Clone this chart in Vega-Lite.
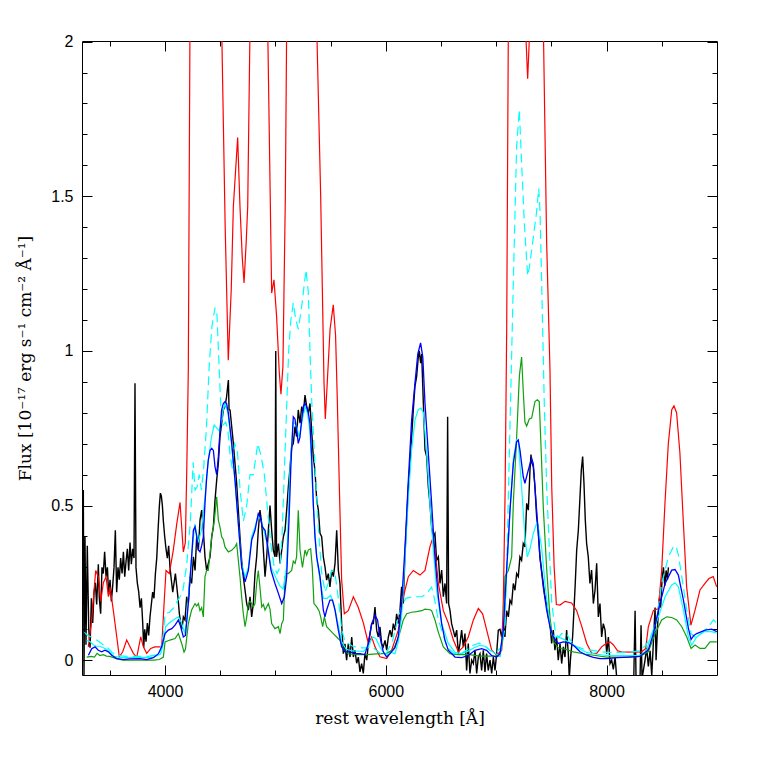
{
"$schema": "https://vega.github.io/schema/vega-lite/v6.json",
"width": 635, "height": 634,
"autosize": "none",
"padding": {"left": 82, "top": 41, "right": 40, "bottom": 82},
"background": "white",
"config": {"view": {"stroke": "black", "strokeWidth": 1},
 "axis": {"grid": false, "domain": false, "tickColor": "black", "labelColor": "black", "titleColor": "black", "labelFont": "Liberation Sans", "labelFontSize": 16, "titleFont": "DejaVu Serif", "titleFontSize": 17, "titleFontWeight": "normal", "tickWidth": 1}},
"resolve": {"axis": {"x": "independent", "y": "independent"}},
"datasets": {
"black": [
{"w":3254,"f":0.35},{"w":3260,"f":0.55},{"w":3266,"f":-0.05},{"w":3275,"f":0.4},{"w":3284,"f":0.05},{"w":3296,"f":0.37},{"w":3309,"f":0.1},{"w":3321,"f":0.04},{"w":3333,"f":0.2},{"w":3345,"f":0.12},{"w":3357,"f":0.22},{"w":3369,"f":0.25},{"w":3381,"f":0.18},{"w":3396,"f":0.31},{"w":3405,"f":0.2},{"w":3417,"f":0.15},{"w":3429,"f":0.3},{"w":3441,"f":0.28},{"w":3453,"f":0.35},{"w":3466,"f":0.27},{"w":3478,"f":0.3},{"w":3490,"f":0.21},{"w":3502,"f":0.26},{"w":3514,"f":0.19},{"w":3526,"f":0.24},{"w":3538,"f":0.3},{"w":3550,"f":0.42},{"w":3562,"f":0.22},{"w":3574,"f":0.3},{"w":3586,"f":0.26},{"w":3598,"f":0.33},{"w":3611,"f":0.28},{"w":3623,"f":0.35},{"w":3635,"f":0.27},{"w":3647,"f":0.32},{"w":3659,"f":0.36},{"w":3671,"f":0.29},{"w":3683,"f":0.38},{"w":3695,"f":0.31},{"w":3707,"f":0.36},{"w":3719,"f":0.33},{"w":3728,"f":0.895},{"w":3737,"f":0.3},{"w":3749,"f":0.25},{"w":3762,"f":0.22},{"w":3774,"f":0.17},{"w":3786,"f":0.2},{"w":3798,"f":0.12},{"w":3807,"f":0.04},{"w":3816,"f":0.1},{"w":3828,"f":0.06},{"w":3840,"f":0.12},{"w":3852,"f":0.08},{"w":3864,"f":0.14},{"w":3876,"f":0.18},{"w":3888,"f":0.22},{"w":3900,"f":0.2},{"w":3913,"f":0.28},{"w":3925,"f":0.33},{"w":3937,"f":0.42},{"w":3949,"f":0.5},{"w":3958,"f":0.54},{"w":3967,"f":0.53},{"w":3976,"f":0.5},{"w":3985,"f":0.45},{"w":3997,"f":0.4},{"w":4009,"f":0.36},{"w":4021,"f":0.33},{"w":4033,"f":0.37},{"w":4045,"f":0.3},{"w":4057,"f":0.26},{"w":4070,"f":0.22},{"w":4082,"f":0.25},{"w":4094,"f":0.28},{"w":4106,"f":0.24},{"w":4118,"f":0.2},{"w":4130,"f":0.15},{"w":4142,"f":0.12},{"w":4154,"f":0.1},{"w":4166,"f":0.14},
{"w":4181,"f":0.13},{"w":4196,"f":0.205},{"w":4211,"f":0.183},{"w":4226,"f":0.27},{"w":4241,"f":0.248},{"w":4257,"f":0.334},{"w":4272,"f":0.29},{"w":4287,"f":0.399},{"w":4302,"f":0.356},{"w":4317,"f":0.453},{"w":4332,"f":0.485},{"w":4347,"f":0.42},{"w":4362,"f":0.334},{"w":4377,"f":0.29},{"w":4392,"f":0.313},{"w":4408,"f":0.334},{"w":4423,"f":0.399},{"w":4438,"f":0.431},{"w":4453,"f":0.518},{"w":4468,"f":0.582},{"w":4483,"f":0.636},{"w":4498,"f":0.723},{"w":4513,"f":0.766},{"w":4528,"f":0.809},{"w":4543,"f":0.82},{"w":4558,"f":0.852},{"w":4574,"f":0.906},{"w":4580,"f":0.81},{"w":4589,"f":0.809},{"w":4604,"f":0.755},{"w":4619,"f":0.701},{"w":4634,"f":0.636},{"w":4649,"f":0.572},{"w":4664,"f":0.485},{"w":4679,"f":0.399},{"w":4694,"f":0.323},{"w":4709,"f":0.27},{"w":4725,"f":0.226},{"w":4740,"f":0.183},{"w":4755,"f":0.162},{"w":4770,"f":0.205},{"w":4785,"f":0.14},{"w":4800,"f":0.183},{"w":4815,"f":0.28},{"w":4830,"f":0.334},{"w":4845,"f":0.42},{"w":4860,"f":0.485},{"w":4876,"f":0.442},{"w":4891,"f":0.356},{"w":4906,"f":0.27},{"w":4921,"f":0.334},{"w":4936,"f":0.42},{"w":4951,"f":0.5},{"w":4966,"f":0.42},{"w":4981,"f":0.356},{"w":4996,"f":0.334},{"w":5003,"f":1.0},{"w":5010,"f":0.334},{"w":5027,"f":0.377},{"w":5042,"f":0.313},{"w":5057,"f":0.356},{"w":5072,"f":0.399},{"w":5087,"f":0.42},{"w":5102,"f":0.485},{"w":5117,"f":0.56},{"w":5132,"f":0.62},{"w":5147,"f":0.69},{"w":5162,"f":0.7},{"w":5177,"f":0.755},{"w":5192,"f":0.723},{"w":5207,"f":0.809},{"w":5223,"f":0.766},{"w":5238,"f":0.82},{"w":5253,"f":0.798},{"w":5268,"f":0.857},{"w":5283,"f":0.82},{"w":5298,"f":0.798},{"w":5313,"f":0.83},{"w":5328,"f":0.744},{"w":5343,"f":0.658},{"w":5358,"f":0.615},{"w":5374,"f":0.518},{"w":5389,"f":0.485},{"w":5404,"f":0.41},{"w":5419,"f":0.399},{"w":5434,"f":0.334},{"w":5449,"f":0.302},{"w":5464,"f":0.259},{"w":5479,"f":0.28},{"w":5494,"f":0.237},{"w":5510,"f":0.291},{"w":5525,"f":0.27},{"w":5540,"f":0.313},{"w":5555,"f":0.42},{"w":5570,"f":0.291},{"w":5585,"f":0.248},{"w":5600,"f":0.118},{"w":5615,"f":0.021},{"w":5630,"f":0.053},{"w":5645,"f":0.0},{"w":5660,"f":0.053},{"w":5676,"f":0.01},{"w":5691,"f":0.075},{"w":5706,"f":0.01},{"w":5721,"f":0.032},{"w":5736,"f":-0.01},{"w":5751,"f":0.01},{"w":5766,"f":-0.038},{"w":5781,"f":-0.011},{"w":5796,"f":-0.043},{"w":5811,"f":0.021},{"w":5827,"f":0.0},{"w":5842,"f":0.054},{"w":5857,"f":0.086},{"w":5872,"f":0.118},{"w":5887,"f":0.118},{"w":5902,"f":0.172},{"w":5917,"f":0.097},{"w":5932,"f":0.075},{"w":5947,"f":0.108},{"w":5962,"f":0.054},{"w":5977,"f":0.043},{"w":5993,"f":0.064},{"w":6008,"f":0.032},{"w":6023,"f":0.075},{"w":6038,"f":0.097},{"w":6053,"f":0.075},{"w":6068,"f":0.118},{"w":6083,"f":0.097},{"w":6098,"f":0.15},{"w":6113,"f":0.118},{"w":6128,"f":0.16},{"w":6143,"f":0.237},{"w":6158,"f":0.183},{"w":6174,"f":0.345},{"w":6189,"f":0.453},{"w":6204,"f":0.56},{"w":6219,"f":0.636},{"w":6234,"f":0.723},{"w":6249,"f":0.809},{"w":6264,"f":0.885},{"w":6279,"f":0.917},{"w":6294,"f":0.98},{"w":6303,"f":1.0},{"w":6316,"f":0.96},{"w":6325,"f":0.99},{"w":6340,"f":0.83},{"w":6355,"f":0.68},{"w":6370,"f":0.658},{"w":6385,"f":0.56},{"w":6400,"f":0.507},{"w":6415,"f":0.43},{"w":6430,"f":0.399},{"w":6445,"f":0.41},{"w":6460,"f":0.323},{"w":6476,"f":0.334},{"w":6491,"f":0.248},{"w":6506,"f":0.291},{"w":6521,"f":0.205},{"w":6536,"f":0.248},{"w":6551,"f":0.183},{"w":6560,"f":0.787},{"w":6569,"f":0.183},{"w":6581,"f":0.162},{"w":6596,"f":0.118},{"w":6611,"f":0.097},{"w":6627,"f":0.075},{"w":6642,"f":0.097},{"w":6657,"f":0.021},{"w":6672,"f":0.054},{"w":6687,"f":0.097},{"w":6702,"f":0.043},{"w":6717,"f":0.086},{"w":6732,"f":-0.033},{"w":6747,"f":0.054},{"w":6762,"f":-0.043},{"w":6778,"f":0.0},{"w":6793,"f":-0.011},{"w":6808,"f":0.032},{"w":6823,"f":-0.043},{"w":6838,"f":0.01},{"w":6853,"f":0.021},{"w":6868,"f":-0.033},{"w":6883,"f":0.032},{"w":6898,"f":-0.038},{"w":6913,"f":0.021},{"w":6928,"f":-0.033},{"w":6944,"f":0.0},{"w":6959,"f":-0.043},{"w":6974,"f":0.01},{"w":6989,"f":-0.033},{"w":7004,"f":0.021},{"w":7019,"f":0.097},{"w":7034,"f":0.1},{"w":7049,"f":0.075},{"w":7064,"f":0.118},{"w":7079,"f":0.075},{"w":7094,"f":0.16},{"w":7110,"f":0.14},{"w":7125,"f":0.194},{"w":7140,"f":0.183},{"w":7155,"f":0.248},{"w":7170,"f":0.226},{"w":7185,"f":0.28},{"w":7200,"f":0.27},{"w":7215,"f":0.334},{"w":7230,"f":0.323},{"w":7245,"f":0.377},{"w":7260,"f":0.366},{"w":7276,"f":0.507},{"w":7291,"f":0.485},{"w":7306,"f":0.615},{"w":7315,"f":0.665},{"w":7321,"f":0.64},{"w":7336,"f":0.625},{"w":7351,"f":0.56},{"w":7366,"f":0.464},{"w":7381,"f":0.42},{"w":7396,"f":0.334},{"w":7411,"f":0.291},{"w":7426,"f":0.248},{"w":7442,"f":0.205},{"w":7457,"f":0.183},{"w":7472,"f":0.14},{"w":7487,"f":0.118},{"w":7502,"f":0.054},{"w":7517,"f":0.097},{"w":7532,"f":0.032},{"w":7547,"f":0.075},{"w":7562,"f":0.0},{"w":7578,"f":0.054},{"w":7593,"f":-0.011},{"w":7608,"f":0.043},{"w":7623,"f":0.01},{"w":7638,"f":0.097},{"w":7653,"f":0.021},{"w":7662,"f":-0.06},{"w":7674,"f":0.01},{"w":7692,"f":0.075},{"w":7704,"f":0.16},{"w":7716,"f":0.248},{"w":7729,"f":0.356},{"w":7744,"f":0.42},{"w":7759,"f":0.528},{"w":7771,"f":0.615},{"w":7783,"f":0.658},{"w":7795,"f":0.572},{"w":7807,"f":0.453},{"w":7819,"f":0.377},{"w":7834,"f":0.334},{"w":7849,"f":0.248},{"w":7864,"f":0.291},{"w":7880,"f":0.183},{"w":7895,"f":0.226},{"w":7910,"f":0.313},{"w":7925,"f":0.14},{"w":7940,"f":0.183},{"w":7955,"f":0.075},{"w":7970,"f":0.118},{"w":7986,"f":0.097},{"w":8001,"f":0.021},{"w":8016,"f":0.075},{"w":8031,"f":-0.011},{"w":8046,"f":0.0},{"w":8061,"f":-0.03},{"w":8077,"f":0.01},{"w":8092,"f":-0.06},{"w":8122,"f":-0.08},{"w":8167,"f":-0.08},{"w":8213,"f":-0.08},{"w":8246,"f":-0.06},{"w":8258,"f":0.16},{"w":8267,"f":-0.07},{"w":8288,"f":-0.08},{"w":8303,"f":-0.06},{"w":8312,"f":0.113},{"w":8321,"f":-0.06},{"w":8348,"f":0.0},{"w":8363,"f":0.04},{"w":8378,"f":-0.02},{"w":8394,"f":0.03},{"w":8409,"f":-0.05},{"w":8424,"f":0.06},{"w":8439,"f":0.17},{"w":8448,"f":0.0},{"w":8463,"f":0.12},{"w":8478,"f":0.2},{"w":8490,"f":0.17},{"w":8502,"f":0.26},{"w":8515,"f":0.3},{"w":8527,"f":0.24},{"w":8539,"f":0.29},{"w":8551,"f":0.26},{"w":8560,"f":0.3}
],
"red": [
{"w":3305,"f":0.043},{"w":3336,"f":0.13},{"w":3372,"f":0.29},{"w":3396,"f":0.27},{"w":3418,"f":0.19},{"w":3441,"f":0.25},{"w":3466,"f":0.27},{"w":3487,"f":0.205},{"w":3502,"f":0.237},{"w":3532,"f":0.16},{"w":3563,"f":0.075},{"w":3586,"f":0.011},{"w":3617,"f":0.027},{"w":3653,"f":0.065},{"w":3683,"f":0.043},{"w":3713,"f":0.022},{"w":3744,"f":0.009},{"w":3780,"f":0.075},{"w":3804,"f":0.043},{"w":3834,"f":0.022},{"w":3870,"f":0.038},{"w":3909,"f":0.043},{"w":3970,"f":0.043},{"w":3991,"f":0.18},{"w":4009,"f":0.29},{"w":4039,"f":0.28},{"w":4075,"f":0.356},{"w":4106,"f":0.44},{"w":4136,"f":0.51},{"w":4151,"f":0.43},{"w":4166,"f":0.35},{"w":4184,"f":0.38},{"w":4197,"f":0.615},{"w":4211,"f":0.94},{"w":4226,"f":2.05},{"w":4370,"f":3.0},{"w":4513,"f":2.05},{"w":4545,"f":1.4},{"w":4573,"f":0.97},{"w":4600,"f":1.2},{"w":4619,"f":1.467},{"w":4658,"f":1.69},{"w":4679,"f":1.467},{"w":4700,"f":1.3},{"w":4716,"f":1.22},{"w":4735,"f":1.35},{"w":4749,"f":1.467},{"w":4770,"f":2.05},{"w":4850,"f":3.0},{"w":4930,"f":2.05},{"w":4966,"f":1.187},{"w":4987,"f":1.23},{"w":5011,"f":1.11},{"w":5035,"f":0.93},{"w":5050,"f":0.86},{"w":5068,"f":0.95},{"w":5090,"f":1.5},{"w":5102,"f":2.05},{"w":5240,"f":3.0},{"w":5374,"f":2.05},{"w":5410,"f":1.5},{"w":5440,"f":0.9},{"w":5452,"f":0.78},{"w":5470,"f":0.9},{"w":5495,"f":1.07},{"w":5524,"f":1.149},{"w":5545,"f":1.05},{"w":5560,"f":0.85},{"w":5585,"f":0.475},{"w":5600,"f":0.26},{"w":5624,"f":0.15},{"w":5660,"f":0.16},{"w":5706,"f":0.205},{"w":5751,"f":0.17},{"w":5797,"f":0.12},{"w":5842,"f":0.054},{"w":5872,"f":0.075},{"w":5902,"f":0.043},{"w":5947,"f":0.011},{"w":6008,"f":0.005},{"w":6053,"f":0.032},{"w":6113,"f":0.097},{"w":6159,"f":0.205},{"w":6204,"f":0.27},{"w":6249,"f":0.29},{"w":6310,"f":0.275},{"w":6355,"f":0.29},{"w":6400,"f":0.367},{"w":6425,"f":0.394},{"w":6446,"f":0.356},{"w":6476,"f":0.248},{"w":6521,"f":0.16},{"w":6566,"f":0.12},{"w":6612,"f":0.065},{"w":6657,"f":0.027},{"w":6702,"f":0.043},{"w":6747,"f":0.075},{"w":6793,"f":0.13},{"w":6838,"f":0.167},{"w":6877,"f":0.15},{"w":6914,"f":0.097},{"w":6959,"f":0.032},{"w":7004,"f":0.016},{"w":7050,"f":0.032},{"w":7065,"f":0.2},{"w":7080,"f":0.53},{"w":7095,"f":1.07},{"w":7110,"f":2.05},{"w":7200,"f":3.0},{"w":7265,"f":2.05},{"w":7285,"f":1.88},{"w":7305,"f":2.05},{"w":7360,"f":3.0},{"w":7427,"f":2.05},{"w":7457,"f":1.35},{"w":7487,"f":0.94},{"w":7503,"f":0.56},{"w":7525,"f":0.3},{"w":7545,"f":0.18},{"w":7578,"f":0.178},{"w":7623,"f":0.19},{"w":7683,"f":0.185},{"w":7729,"f":0.16},{"w":7774,"f":0.11},{"w":7820,"f":0.054},{"w":7865,"f":0.022},{"w":7910,"f":0.022},{"w":7955,"f":0.043},{"w":8001,"f":0.055},{"w":8031,"f":0.059},{"w":8060,"f":0.05},{"w":8100,"f":0.03},{"w":8137,"f":0.027},{"w":8227,"f":0.026},{"w":8318,"f":0.027},{"w":8354,"f":0.038},{"w":8378,"f":0.108},{"w":8423,"f":0.16},{"w":8468,"f":0.167},{"w":8499,"f":0.29},{"w":8529,"f":0.51},{"w":8559,"f":0.7},{"w":8590,"f":0.81},{"w":8610,"f":0.822},{"w":8634,"f":0.8},{"w":8664,"f":0.67},{"w":8694,"f":0.453},{"w":8725,"f":0.237},{"w":8764,"f":0.113},{"w":8800,"f":0.16},{"w":8846,"f":0.227},{"w":8891,"f":0.248},{"w":8927,"f":0.264},{"w":8966,"f":0.27},{"w":8997,"f":0.237}
],
"green": [
{"w":3290,"f":0.01},{"w":3330,"f":0.012},{"w":3360,"f":0.01},{"w":3385,"f":0.022},{"w":3410,"f":0.015},{"w":3440,"f":0.018},{"w":3470,"f":0.013},{"w":3500,"f":0.012},{"w":3560,"f":0.005},{"w":3620,"f":0.0},{"w":3700,"f":0.0},{"w":3800,"f":0.0},{"w":3900,"f":0.0},{"w":3950,"f":0.002},{"w":3985,"f":0.01},{"w":4000,"f":0.059},{"w":4045,"f":0.065},{"w":4091,"f":0.07},{"w":4121,"f":0.086},{"w":4151,"f":0.054},{"w":4172,"f":0.026},{"w":4185,"f":0.035},{"w":4211,"f":0.118},{"w":4241,"f":0.162},{"w":4272,"f":0.183},{"w":4287,"f":0.175},{"w":4302,"f":0.183},{"w":4317,"f":0.16},{"w":4332,"f":0.17},{"w":4347,"f":0.14},{"w":4362,"f":0.27},{"w":4377,"f":0.29},{"w":4392,"f":0.29},{"w":4423,"f":0.399},{"w":4447,"f":0.453},{"w":4468,"f":0.528},{"w":4483,"f":0.453},{"w":4498,"f":0.43},{"w":4513,"f":0.399},{"w":4528,"f":0.39},{"w":4543,"f":0.366},{"w":4574,"f":0.35},{"w":4604,"f":0.355},{"w":4634,"f":0.366},{"w":4649,"f":0.377},{"w":4664,"f":0.323},{"w":4679,"f":0.27},{"w":4694,"f":0.205},{"w":4709,"f":0.151},{"w":4725,"f":0.108},{"w":4740,"f":0.14},{"w":4755,"f":0.183},{"w":4770,"f":0.19},{"w":4785,"f":0.183},{"w":4800,"f":0.172},{"w":4815,"f":0.183},{"w":4830,"f":0.248},{"w":4845,"f":0.29},{"w":4860,"f":0.235},{"w":4876,"f":0.172},{"w":4891,"f":0.18},{"w":4906,"f":0.162},{"w":4936,"f":0.183},{"w":4951,"f":0.165},{"w":4966,"f":0.118},{"w":4996,"f":0.102},{"w":5027,"f":0.108},{"w":5042,"f":0.086},{"w":5057,"f":0.118},{"w":5072,"f":0.13},{"w":5087,"f":0.27},{"w":5102,"f":0.28},{"w":5117,"f":0.28},{"w":5147,"f":0.29},{"w":5162,"f":0.32},{"w":5178,"f":0.313},{"w":5192,"f":0.334},{"w":5207,"f":0.485},{"w":5223,"f":0.356},{"w":5245,"f":0.3},{"w":5268,"f":0.356},{"w":5283,"f":0.34},{"w":5298,"f":0.356},{"w":5319,"f":0.36},{"w":5334,"f":0.3},{"w":5349,"f":0.183},{"w":5374,"f":0.172},{"w":5395,"f":0.16},{"w":5410,"f":0.14},{"w":5428,"f":0.108},{"w":5443,"f":0.14},{"w":5464,"f":0.108},{"w":5494,"f":0.097},{"w":5524,"f":0.086},{"w":5555,"f":0.075},{"w":5585,"f":0.064},{"w":5615,"f":0.035},{"w":5660,"f":0.02},{"w":5750,"f":0.018},{"w":5827,"f":0.018},{"w":5917,"f":0.02},{"w":6008,"f":0.022},{"w":6070,"f":0.035},{"w":6098,"f":0.06},{"w":6128,"f":0.09},{"w":6158,"f":0.13},{"w":6189,"f":0.15},{"w":6234,"f":0.155},{"w":6279,"f":0.157},{"w":6325,"f":0.16},{"w":6355,"f":0.165},{"w":6400,"f":0.163},{"w":6415,"f":0.16},{"w":6445,"f":0.13},{"w":6476,"f":0.09},{"w":6521,"f":0.043},{"w":6581,"f":0.021},{"w":6650,"f":0.018},{"w":6760,"f":0.018},{"w":6850,"f":0.013},{"w":6930,"f":0.013},{"w":7000,"f":0.013},{"w":7034,"f":0.013},{"w":7064,"f":0.075},{"w":7079,"f":0.27},{"w":7110,"f":0.29},{"w":7140,"f":0.334},{"w":7155,"f":0.507},{"w":7185,"f":0.72},{"w":7210,"f":0.92},{"w":7230,"f":0.98},{"w":7245,"f":0.87},{"w":7260,"f":0.77},{"w":7276,"f":0.757},{"w":7300,"f":0.78},{"w":7321,"f":0.783},{"w":7351,"f":0.836},{"w":7372,"f":0.842},{"w":7390,"f":0.836},{"w":7406,"f":0.69},{"w":7427,"f":0.49},{"w":7457,"f":0.296},{"w":7487,"f":0.138},{"w":7502,"f":0.097},{"w":7517,"f":0.06},{"w":7563,"f":0.04},{"w":7610,"f":0.037},{"w":7699,"f":0.027},{"w":7800,"f":0.02},{"w":7900,"f":0.015},{"w":8000,"f":0.01},{"w":8100,"f":0.01},{"w":8200,"f":0.01},{"w":8300,"f":0.012},{"w":8378,"f":0.027},{"w":8439,"f":0.086},{"w":8499,"f":0.13},{"w":8545,"f":0.14},{"w":8590,"f":0.138},{"w":8635,"f":0.13},{"w":8681,"f":0.108},{"w":8726,"f":0.075},{"w":8765,"f":0.038},{"w":8801,"f":0.049},{"w":8846,"f":0.038},{"w":8891,"f":0.038},{"w":8937,"f":0.059},{"w":8998,"f":0.059}
],
"cyandash": [
{"w":3270,"f":0.09},{"w":3300,"f":0.08},{"w":3330,"f":0.075},{"w":3360,"f":0.07},{"w":3400,"f":0.06},{"w":3440,"f":0.05},{"w":3480,"f":0.04},{"w":3520,"f":0.025},{"w":3560,"f":0.015},{"w":3650,"f":0.012},{"w":3750,"f":0.012},{"w":3850,"f":0.012},{"w":3950,"f":0.02},{"w":3985,"f":0.08},{"w":4000,"f":0.15},{"w":4040,"f":0.155},{"w":4080,"f":0.17},{"w":4110,"f":0.19},{"w":4136,"f":0.205},{"w":4160,"f":0.22},{"w":4197,"f":0.31},{"w":4230,"f":0.45},{"w":4255,"f":0.64},{"w":4272,"f":0.55},{"w":4290,"f":0.56},{"w":4310,"f":0.6},{"w":4330,"f":0.55},{"w":4350,"f":0.62},{"w":4375,"f":0.75},{"w":4400,"f":0.95},{"w":4425,"f":1.08},{"w":4453,"f":1.14},{"w":4470,"f":1.12},{"w":4490,"f":0.95},{"w":4505,"f":0.82},{"w":4525,"f":0.76},{"w":4550,"f":0.77},{"w":4570,"f":0.74},{"w":4590,"f":0.66},{"w":4610,"f":0.62},{"w":4630,"f":0.7},{"w":4655,"f":0.68},{"w":4680,"f":0.55},{"w":4710,"f":0.45},{"w":4740,"f":0.5},{"w":4770,"f":0.6},{"w":4800,"f":0.6},{"w":4840,"f":0.7},{"w":4870,"f":0.66},{"w":4900,"f":0.6},{"w":4930,"f":0.48},{"w":4960,"f":0.37},{"w":4990,"f":0.3},{"w":5015,"f":0.28},{"w":5040,"f":0.3},{"w":5060,"f":0.4},{"w":5090,"f":0.7},{"w":5120,"f":1.0},{"w":5140,"f":1.1},{"w":5162,"f":1.155},{"w":5185,"f":1.1},{"w":5208,"f":1.07},{"w":5240,"f":1.15},{"w":5277,"f":1.262},{"w":5298,"f":1.19},{"w":5313,"f":1.0},{"w":5330,"f":0.83},{"w":5360,"f":0.62},{"w":5390,"f":0.42},{"w":5420,"f":0.28},{"w":5450,"f":0.22},{"w":5480,"f":0.25},{"w":5510,"f":0.29},{"w":5540,"f":0.28},{"w":5570,"f":0.2},{"w":5600,"f":0.1},{"w":5630,"f":0.06},{"w":5700,"f":0.045},{"w":5780,"f":0.04},{"w":5830,"f":0.04},{"w":5870,"f":0.045},{"w":5920,"f":0.03},{"w":5960,"f":0.02},{"w":6000,"f":0.02},{"w":6060,"f":0.06},{"w":6100,"f":0.12},{"w":6140,"f":0.17},{"w":6180,"f":0.2},{"w":6250,"f":0.205},{"w":6330,"f":0.205},{"w":6380,"f":0.22},{"w":6415,"f":0.236},{"w":6440,"f":0.2},{"w":6470,"f":0.14},{"w":6520,"f":0.08},{"w":6560,"f":0.04},{"w":6620,"f":0.022},{"w":6680,"f":0.02},{"w":6740,"f":0.035},{"w":6800,"f":0.05},{"w":6850,"f":0.055},{"w":6900,"f":0.045},{"w":6950,"f":0.03},{"w":7000,"f":0.025},{"w":7040,"f":0.04},{"w":7079,"f":0.1},{"w":7095,"f":0.3},{"w":7125,"f":0.76},{"w":7155,"f":1.22},{"w":7185,"f":1.66},{"w":7209,"f":1.78},{"w":7230,"f":1.61},{"w":7255,"f":1.41},{"w":7285,"f":1.243},{"w":7300,"f":1.27},{"w":7330,"f":1.35},{"w":7366,"f":1.45},{"w":7385,"f":1.525},{"w":7397,"f":1.45},{"w":7412,"f":1.217},{"w":7436,"f":0.823},{"w":7457,"f":0.56},{"w":7481,"f":0.362},{"w":7502,"f":0.191},{"w":7532,"f":0.1},{"w":7563,"f":0.073},{"w":7593,"f":0.086},{"w":7638,"f":0.086},{"w":7668,"f":0.066},{"w":7720,"f":0.045},{"w":7800,"f":0.035},{"w":7900,"f":0.03},{"w":8000,"f":0.025},{"w":8100,"f":0.025},{"w":8200,"f":0.025},{"w":8300,"f":0.03},{"w":8360,"f":0.05},{"w":8394,"f":0.075},{"w":8439,"f":0.097},{"w":8499,"f":0.248},{"w":8560,"f":0.334},{"w":8605,"f":0.367},{"w":8629,"f":0.369},{"w":8650,"f":0.34},{"w":8681,"f":0.27},{"w":8726,"f":0.162},{"w":8765,"f":0.086},{"w":8801,"f":0.075},{"w":8862,"f":0.086},{"w":8922,"f":0.108},{"w":8968,"f":0.13},{"w":8998,"f":0.12}
],
"cyan": [
{"w":3290,"f":0.064},{"w":3320,"f":0.06},{"w":3350,"f":0.05},{"w":3380,"f":0.045},{"w":3410,"f":0.045},{"w":3440,"f":0.04},{"w":3470,"f":0.035},{"w":3500,"f":0.025},{"w":3540,"f":0.012},{"w":3600,"f":0.008},{"w":3700,"f":0.008},{"w":3800,"f":0.008},{"w":3900,"f":0.01},{"w":3960,"f":0.02},{"w":3990,"f":0.06},{"w":4005,"f":0.108},{"w":4030,"f":0.118},{"w":4075,"f":0.13},{"w":4121,"f":0.14},{"w":4150,"f":0.12},{"w":4175,"f":0.09},{"w":4195,"f":0.12},{"w":4215,"f":0.22},{"w":4245,"f":0.35},{"w":4270,"f":0.44},{"w":4300,"f":0.38},{"w":4330,"f":0.42},{"w":4360,"f":0.52},{"w":4390,"f":0.64},{"w":4420,"f":0.72},{"w":4445,"f":0.76},{"w":4470,"f":0.75},{"w":4495,"f":0.74},{"w":4520,"f":0.8},{"w":4545,"f":0.83},{"w":4570,"f":0.8},{"w":4600,"f":0.71},{"w":4634,"f":0.58},{"w":4664,"f":0.44},{"w":4694,"f":0.31},{"w":4725,"f":0.27},{"w":4755,"f":0.3},{"w":4785,"f":0.4},{"w":4815,"f":0.43},{"w":4845,"f":0.47},{"w":4880,"f":0.44},{"w":4930,"f":0.37},{"w":4960,"f":0.3},{"w":5000,"f":0.27},{"w":5040,"f":0.24},{"w":5070,"f":0.23},{"w":5100,"f":0.3},{"w":5130,"f":0.6},{"w":5160,"f":0.77},{"w":5190,"f":0.76},{"w":5215,"f":0.72},{"w":5240,"f":0.77},{"w":5268,"f":0.82},{"w":5290,"f":0.8},{"w":5313,"f":0.74},{"w":5343,"f":0.5},{"w":5374,"f":0.33},{"w":5404,"f":0.26},{"w":5434,"f":0.2},{"w":5470,"f":0.2},{"w":5500,"f":0.21},{"w":5530,"f":0.18},{"w":5560,"f":0.13},{"w":5600,"f":0.06},{"w":5640,"f":0.035},{"w":5700,"f":0.03},{"w":5800,"f":0.028},{"w":5850,"f":0.05},{"w":5880,"f":0.075},{"w":5910,"f":0.07},{"w":5950,"f":0.04},{"w":6000,"f":0.015},{"w":6050,"f":0.025},{"w":6083,"f":0.021},{"w":6113,"f":0.06},{"w":6143,"f":0.14},{"w":6174,"f":0.334},{"w":6204,"f":0.528},{"w":6234,"f":0.68},{"w":6264,"f":0.777},{"w":6294,"f":0.81},{"w":6319,"f":0.815},{"w":6340,"f":0.8},{"w":6370,"f":0.669},{"w":6400,"f":0.507},{"w":6430,"f":0.356},{"w":6460,"f":0.226},{"w":6506,"f":0.118},{"w":6566,"f":0.054},{"w":6627,"f":0.025},{"w":6687,"f":0.021},{"w":6750,"f":0.03},{"w":6800,"f":0.04},{"w":6853,"f":0.048},{"w":6900,"f":0.045},{"w":6950,"f":0.03},{"w":7000,"f":0.02},{"w":7034,"f":0.012},{"w":7064,"f":0.097},{"w":7094,"f":0.27},{"w":7125,"f":0.485},{"w":7155,"f":0.65},{"w":7185,"f":0.712},{"w":7200,"f":0.708},{"w":7230,"f":0.56},{"w":7260,"f":0.4},{"w":7282,"f":0.334},{"w":7306,"f":0.36},{"w":7336,"f":0.41},{"w":7366,"f":0.442},{"w":7381,"f":0.43},{"w":7411,"f":0.366},{"w":7442,"f":0.248},{"w":7472,"f":0.15},{"w":7502,"f":0.086},{"w":7532,"f":0.075},{"w":7562,"f":0.075},{"w":7608,"f":0.068},{"w":7650,"f":0.06},{"w":7700,"f":0.05},{"w":7760,"f":0.035},{"w":7820,"f":0.025},{"w":7900,"f":0.02},{"w":8000,"f":0.015},{"w":8100,"f":0.015},{"w":8200,"f":0.015},{"w":8300,"f":0.015},{"w":8360,"f":0.03},{"w":8409,"f":0.086},{"w":8469,"f":0.14},{"w":8530,"f":0.205},{"w":8590,"f":0.243},{"w":8620,"f":0.25},{"w":8650,"f":0.237},{"w":8696,"f":0.162},{"w":8741,"f":0.075},{"w":8771,"f":0.049},{"w":8817,"f":0.075},{"w":8877,"f":0.092},{"w":8952,"f":0.092},{"w":8998,"f":0.087}
],
"blue": [
{"w":3306,"f":0.016},{"w":3336,"f":0.037},{"w":3366,"f":0.043},{"w":3396,"f":0.032},{"w":3426,"f":0.027},{"w":3456,"f":0.032},{"w":3487,"f":0.027},{"w":3517,"f":0.016},{"w":3562,"f":0.005},{"w":3623,"f":0.002},{"w":3683,"f":0.004},{"w":3774,"f":0.005},{"w":3834,"f":0.002},{"w":3894,"f":0.008},{"w":3940,"f":0.021},{"w":3970,"f":0.043},{"w":4000,"f":0.086},{"w":4030,"f":0.097},{"w":4061,"f":0.102},{"w":4091,"f":0.113},{"w":4121,"f":0.13},{"w":4140,"f":0.11},{"w":4166,"f":0.075},{"w":4185,"f":0.08},{"w":4211,"f":0.183},{"w":4241,"f":0.334},{"w":4257,"f":0.42},{"w":4272,"f":0.431},{"w":4287,"f":0.4},{"w":4302,"f":0.356},{"w":4317,"f":0.35},{"w":4332,"f":0.37},{"w":4347,"f":0.399},{"w":4362,"f":0.507},{"w":4377,"f":0.59},{"w":4392,"f":0.647},{"w":4408,"f":0.678},{"w":4423,"f":0.685},{"w":4438,"f":0.678},{"w":4453,"f":0.625},{"w":4468,"f":0.6},{"w":4483,"f":0.658},{"w":4498,"f":0.74},{"w":4513,"f":0.809},{"w":4528,"f":0.83},{"w":4543,"f":0.836},{"w":4558,"f":0.83},{"w":4574,"f":0.798},{"w":4604,"f":0.701},{"w":4634,"f":0.582},{"w":4664,"f":0.442},{"w":4694,"f":0.302},{"w":4725,"f":0.253},{"w":4755,"f":0.29},{"w":4785,"f":0.388},{"w":4815,"f":0.42},{"w":4845,"f":0.474},{"w":4860,"f":0.465},{"w":4882,"f":0.431},{"w":4906,"f":0.42},{"w":4930,"f":0.366},{"w":4960,"f":0.29},{"w":4996,"f":0.248},{"w":5027,"f":0.216},{"w":5057,"f":0.183},{"w":5081,"f":0.205},{"w":5102,"f":0.27},{"w":5123,"f":0.453},{"w":5141,"f":0.636},{"w":5162,"f":0.787},{"w":5177,"f":0.78},{"w":5192,"f":0.745},{"w":5207,"f":0.701},{"w":5222,"f":0.72},{"w":5238,"f":0.777},{"w":5253,"f":0.82},{"w":5268,"f":0.83},{"w":5283,"f":0.82},{"w":5298,"f":0.8},{"w":5313,"f":0.766},{"w":5328,"f":0.66},{"w":5343,"f":0.507},{"w":5358,"f":0.4},{"w":5374,"f":0.334},{"w":5404,"f":0.27},{"w":5434,"f":0.162},{"w":5449,"f":0.14},{"w":5464,"f":0.162},{"w":5494,"f":0.194},{"w":5517,"f":0.194},{"w":5540,"f":0.162},{"w":5570,"f":0.097},{"w":5600,"f":0.043},{"w":5630,"f":0.027},{"w":5676,"f":0.027},{"w":5721,"f":0.021},{"w":5766,"f":0.021},{"w":5810,"f":0.018},{"w":5842,"f":0.054},{"w":5872,"f":0.118},{"w":5902,"f":0.145},{"w":5925,"f":0.13},{"w":5947,"f":0.075},{"w":5977,"f":0.027},{"w":6008,"f":0.01},{"w":6038,"f":0.021},{"w":6083,"f":0.04},{"w":6113,"f":0.075},{"w":6143,"f":0.183},{"w":6174,"f":0.366},{"w":6204,"f":0.582},{"w":6234,"f":0.777},{"w":6264,"f":0.895},{"w":6290,"f":0.99},{"w":6315,"f":1.026},{"w":6335,"f":0.98},{"w":6355,"f":0.83},{"w":6385,"f":0.669},{"w":6415,"f":0.507},{"w":6445,"f":0.334},{"w":6476,"f":0.205},{"w":6506,"f":0.118},{"w":6536,"f":0.064},{"w":6566,"f":0.032},{"w":6627,"f":0.01},{"w":6687,"f":0.008},{"w":6747,"f":0.015},{"w":6808,"f":0.032},{"w":6868,"f":0.037},{"w":6913,"f":0.032},{"w":6958,"f":0.015},{"w":7004,"f":0.01},{"w":7034,"f":0.021},{"w":7064,"f":0.097},{"w":7094,"f":0.29},{"w":7125,"f":0.485},{"w":7155,"f":0.636},{"w":7185,"f":0.706},{"w":7200,"f":0.712},{"w":7215,"f":0.68},{"w":7245,"f":0.593},{"w":7260,"f":0.572},{"w":7291,"f":0.615},{"w":7321,"f":0.653},{"w":7336,"f":0.635},{"w":7366,"f":0.485},{"w":7396,"f":0.334},{"w":7426,"f":0.237},{"w":7457,"f":0.162},{"w":7487,"f":0.108},{"w":7517,"f":0.075},{"w":7562,"f":0.054},{"w":7608,"f":0.059},{"w":7653,"f":0.057},{"w":7683,"f":0.052},{"w":7714,"f":0.043},{"w":7759,"f":0.027},{"w":7819,"f":0.016},{"w":7880,"f":0.009},{"w":7940,"f":0.005},{"w":8000,"f":0.005},{"w":8100,"f":0.008},{"w":8200,"f":0.01},{"w":8300,"f":0.012},{"w":8378,"f":0.033},{"w":8424,"f":0.086},{"w":8469,"f":0.162},{"w":8530,"f":0.248},{"w":8590,"f":0.291},{"w":8620,"f":0.293},{"w":8650,"f":0.275},{"w":8696,"f":0.194},{"w":8741,"f":0.103},{"w":8765,"f":0.067},{"w":8790,"f":0.08},{"w":8817,"f":0.086},{"w":8892,"f":0.097},{"w":8952,"f":0.1},{"w":8998,"f":0.092}
]
},
"layer": [
{"data": {"name": "black"},
 "mark": {"type": "line", "color": "black", "strokeWidth": 1.4, "clip": true},
 "encoding": {
  "x": {"field": "w", "type": "quantitative", "scale": {"domain": [3248, 9000], "nice": false, "zero": false},
   "axis": {"orient": "bottom", "values": [4000, 6000, 8000], "tickSize": -10, "labelPadding": 18, "labelExpr": "'' + datum.value", "title": "rest wavelength [Å]", "titlePadding": 11}},
  "y": {"field": "f", "type": "quantitative", "scale": {"domain": [-0.048, 2.002], "nice": false, "zero": false},
   "axis": {"orient": "left", "values": [0, 0.5, 1, 1.5, 2], "tickSize": -10, "labelPadding": 19, "labelExpr": "'' + datum.value", "title": "Flux [10⁻¹⁷ erg s⁻¹ cm⁻² Å⁻¹]", "titlePadding": 16}}
 }},
{"data": {"name": "red"},
 "mark": {"type": "line", "color": "#ff0000", "strokeWidth": 1.2, "clip": true},
 "encoding": {
  "x": {"field": "w", "type": "quantitative", "scale": {"domain": [3248, 9000], "nice": false, "zero": false},
   "axis": {"orient": "bottom", "values": [3500, 4000, 4500, 5000, 5500, 6000, 6500, 7000, 7500, 8000, 8500], "tickSize": -5, "labels": false, "title": null}},
  "y": {"field": "f", "type": "quantitative", "scale": {"domain": [-0.048, 2.002], "nice": false, "zero": false},
   "axis": {"orient": "left", "values": [0, 0.1, 0.2, 0.3, 0.4, 0.5, 0.6, 0.7, 0.8, 0.9, 1, 1.1, 1.2, 1.3, 1.4, 1.5, 1.6, 1.7, 1.8, 1.9, 2], "tickSize": -5, "labels": false, "title": null}}
 }},
{"data": {"name": "green"},
 "mark": {"type": "line", "color": "#10a010", "strokeWidth": 1.2, "clip": true},
 "encoding": {
  "x": {"field": "w", "type": "quantitative", "scale": {"domain": [3248, 9000], "nice": false, "zero": false},
   "axis": {"orient": "top", "values": [4000, 6000, 8000], "tickSize": -10, "labels": false, "title": null}},
  "y": {"field": "f", "type": "quantitative", "scale": {"domain": [-0.048, 2.002], "nice": false, "zero": false},
   "axis": {"orient": "right", "values": [0, 0.5, 1, 1.5, 2], "tickSize": -10, "labels": false, "title": null}}
 }},
{"data": {"name": "cyandash"},
 "mark": {"type": "line", "color": "#00ffff", "strokeWidth": 1.2, "strokeDash": [9, 5], "clip": true},
 "encoding": {
  "x": {"field": "w", "type": "quantitative", "scale": {"domain": [3248, 9000], "nice": false, "zero": false},
   "axis": {"orient": "top", "values": [3500, 4000, 4500, 5000, 5500, 6000, 6500, 7000, 7500, 8000, 8500], "tickSize": -5, "labels": false, "title": null}},
  "y": {"field": "f", "type": "quantitative", "scale": {"domain": [-0.048, 2.002], "nice": false, "zero": false},
   "axis": {"orient": "right", "values": [0, 0.1, 0.2, 0.3, 0.4, 0.5, 0.6, 0.7, 0.8, 0.9, 1, 1.1, 1.2, 1.3, 1.4, 1.5, 1.6, 1.7, 1.8, 1.9, 2], "tickSize": -5, "labels": false, "title": null}}
 }},
{"data": {"name": "cyan"},
 "mark": {"type": "line", "color": "#00ffff", "strokeWidth": 1.2, "clip": true},
 "encoding": {
  "x": {"field": "w", "type": "quantitative", "axis": null},
  "y": {"field": "f", "type": "quantitative", "axis": null}
 }},
{"data": {"name": "blue"},
 "mark": {"type": "line", "color": "#0000ff", "strokeWidth": 1.3, "clip": true},
 "encoding": {
  "x": {"field": "w", "type": "quantitative", "axis": null},
  "y": {"field": "f", "type": "quantitative", "axis": null}
 }}
]
}
